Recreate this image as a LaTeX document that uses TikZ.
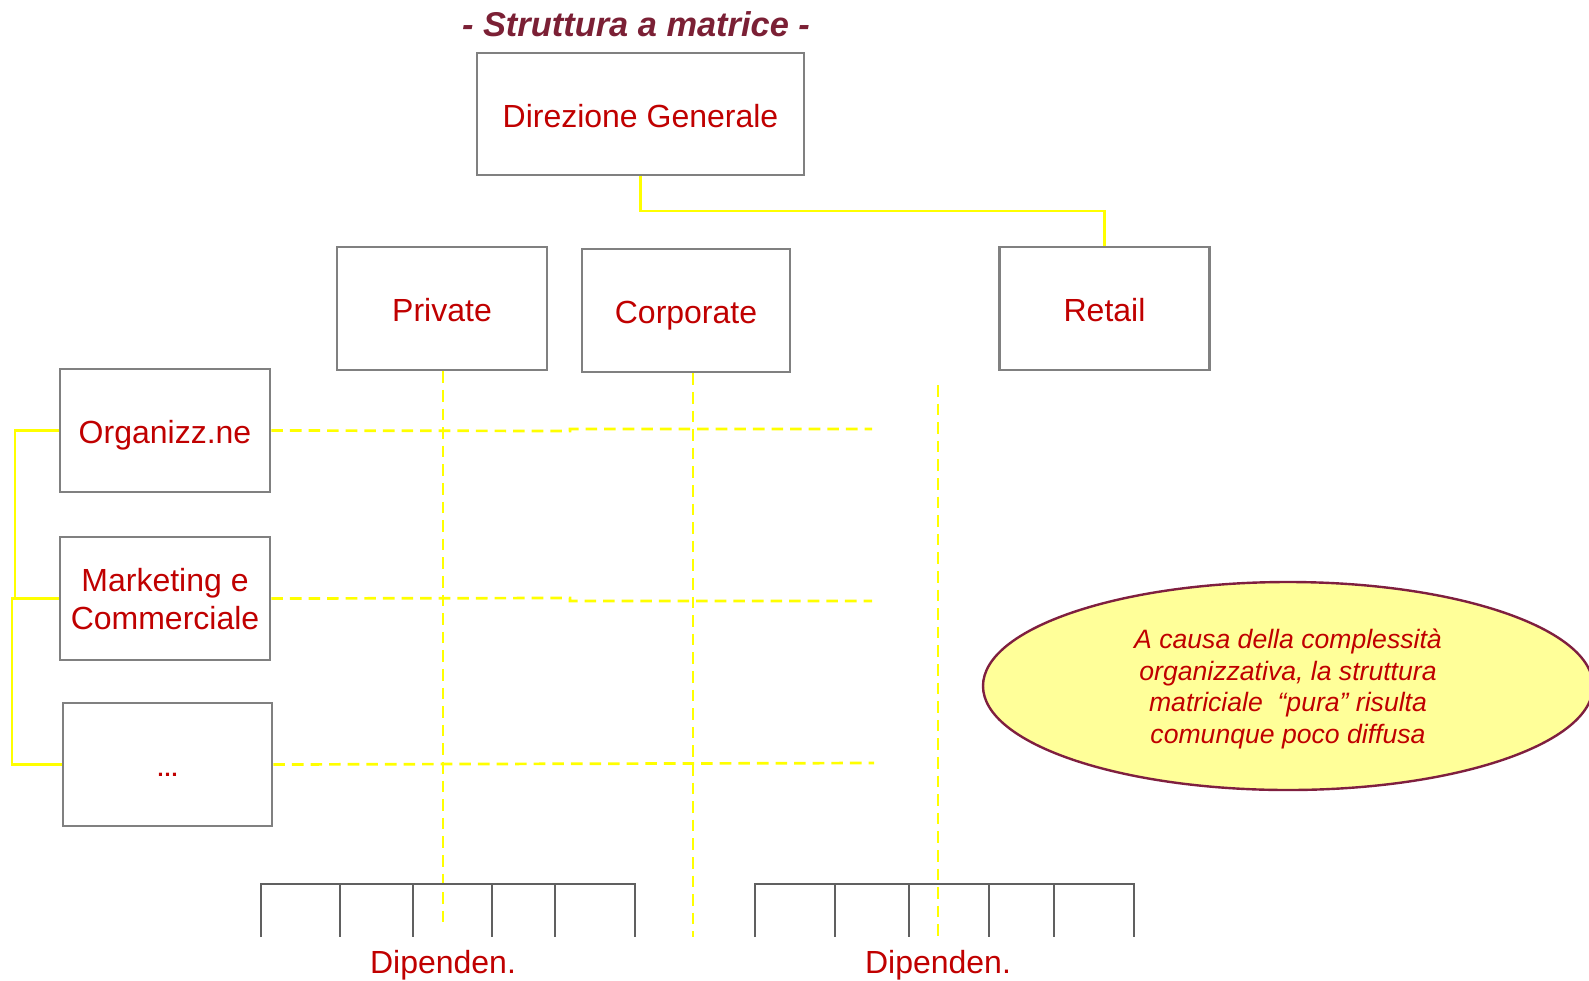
\documentclass[tikz,border=0pt]{standalone}
\usepackage{fontspec}
\setmainfont{Liberation Sans}
\usetikzlibrary{shapes.geometric}
\definecolor{boxgray}{HTML}{808080}
\definecolor{combgray}{HTML}{606060}
\definecolor{txtred}{HTML}{C00000}
\definecolor{titlered}{HTML}{7B2035}
\definecolor{noteyellow}{HTML}{FFFF99}
\definecolor{notemaroon}{HTML}{7F1F3F}
\definecolor{linkyellow}{HTML}{FFFF00}
\tikzset{
  unitbox/.style={draw=boxgray, line width=1.3pt, fill=white, inner sep=0pt,
    minimum width=105pt, minimum height=61.5pt, align=center,
    text=txtred, font=\fontsize{16}{19}\selectfont},
  oneline/.style={text height=13pt, text depth=0pt},
  yline/.style={draw=linkyellow, line width=1.35pt},
  ydash/.style={draw=linkyellow, line width=1.35pt, dash pattern=on 5.8pt off 3.5pt},
  comb/.style={draw=combgray, line width=1.1pt},
  lbl/.style={text=txtred, font=\fontsize{16}{19}\selectfont, inner sep=0pt},
  note/.style={ellipse, draw=notemaroon, line width=1.2pt, fill=noteyellow,
    minimum width=305pt, minimum height=104pt, inner sep=0pt, align=center,
    text depth=0pt, text=txtred, font=\fontsize{13.3}{15.8}\selectfont\itshape}
}
\begin{document}
\begin{tikzpicture}[x=0.5pt, y=-0.5pt]
\useasboundingbox (0,0) rectangle (1589,980);

% title
\node[text=titlered, font=\fontsize{17.2}{21}\selectfont\bfseries\itshape, inner sep=0pt]
  (title) at (636,24) {- Struttura a matrice -};

% top of the hierarchy and the business units
\node[unitbox, oneline, minimum width=163.5pt, minimum height=61pt] (dg) at (640.5,114) {Direzione Generale};
\node[unitbox, oneline] (priv) at (442,308.5) {Private};
\node[unitbox, oneline, minimum width=104pt] (corp) at (686,310.5) {Corporate};
\node[unitbox, oneline] (ret) at (1104.5,308.5) {Retail};

% functional units
\node[unitbox, oneline] (org) at (165,430.5) {Organizz.ne};
\node[unitbox, text depth=-1.5pt] (mkt) at (165,598.5) {Marketing e\\Commerciale};
\node[unitbox, minimum width=104.5pt, text height=11.5pt, text depth=0pt,
  font=\fontsize{11}{13}\selectfont\bfseries] (etc) at (167.5,764.5) {…};

% hierarchy link
\coordinate (bend) at (0,211);
\draw[yline] (dg.south) -- (dg.south |- bend) -| (ret.north);

% bracket joining the functional units
\coordinate (brA) at (15,0);
\coordinate (brB) at (12,0);
\draw[yline] (org.west) -- (org.west -| brA) |- (mkt.west);
\draw[yline] (mkt.west) -- (mkt.west -| brB) |- (etc.west);

% matrix rows
\coordinate (r1a) at (570,431); \coordinate (r1b) at (570,429); \coordinate (r1e) at (872,429);
\coordinate (r2a) at (570,598); \coordinate (r2b) at (570,601); \coordinate (r2e) at (872,601);
\coordinate (r3e) at (874,763);
\draw[ydash] (org.east) -- (r1a) -- (r1b) -- (r1e);
\draw[ydash] (mkt.east) -- (r2a) -- (r2b) -- (r2e);
\draw[ydash] (etc.east) -- (r3e);

% matrix columns
\coordinate (c1e) at (443,925);
\coordinate (c2e) at (693,937);
\coordinate (c3s) at (938,385); \coordinate (c3e) at (938,937);
\draw[ydash] (priv.south -| c1e) -- (c1e);
\draw[ydash] (corp.south -| c2e) -- (c2e);
\draw[ydash] (c3s) -- (c3e);

% staff combs
\draw[comb] (261,937) -- (261,884) -- (635,884) -- (635,937);
\foreach \x in {340,413,492,555} \draw[comb] (\x,884) -- (\x,937);
\draw[comb] (755,937) -- (755,884) -- (1134,884) -- (1134,937);
\foreach \x in {835,909,989,1054} \draw[comb] (\x,884) -- (\x,937);

\node[lbl, anchor=base] (dip1) at (443,973) {Dipenden.};
\node[lbl, anchor=base] (dip2) at (938,973) {Dipenden.};

% remark
\node[note] (remark) at (1288,686) {A causa della complessità\\organizzativa, la struttura\\matriciale~ “pura” risulta\\comunque poco diffusa};
\end{tikzpicture}
\end{document}
